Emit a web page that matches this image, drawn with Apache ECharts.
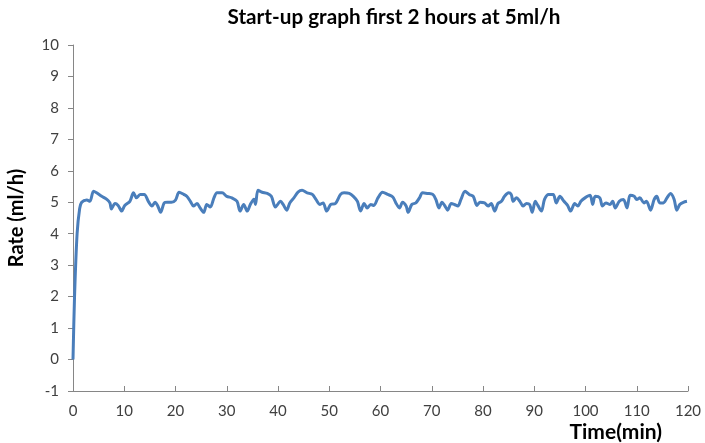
<!DOCTYPE html>
<html>
<head>
<meta charset="utf-8">
<script src="https://cdn.jsdelivr.net/npm/echarts@6/dist/echarts.min.js"></script>
<style>html,body{margin:0;padding:0;background:#fff}#c{width:705px;height:443px}</style>
</head>
<body>
<div id="c"></div>
<script>
var titleText = 'Start-up graph first 2 hours at 5ml/h';
var xName = 'Time(min)';
var yName = 'Rate (ml/h)';
var xTicks = [0, 120, 10];
var yTicks = [-1, 10, 1];
var timeMin = [0,0.3,0.8,1.3,1.7,2.7,3.3,4.0,4.6,5.6,6.6,7.2,7.5,8.2,8.8,9.5,10.1,11.1,11.8,12.4,13.1,13.9,14.7,15.4,16.0,16.5,17.1,17.8,18.4,19.2,
20.0,20.7,21.6,22.2,22.9,23.5,24.2,24.8,25.5,26.1,26.8,27.5,28.1,29.1,30.0,31.0,32.0,32.6,33.3,34.0,34.6,35.3,35.6,36.1,36.9,37.9,38.7,39.5,
40.5,41.0,41.7,42.3,43.1,43.9,44.7,45.7,46.7,47.4,48.2,48.8,49.5,50.3,51.2,52.2,52.9,53.9,54.7,55.5,56.1,56.8,57.4,58.1,58.7,59.5,
60.4,61.4,62.4,63.0,63.7,64.3,65.0,65.4,66.1,66.9,67.6,68.2,69.2,70.2,70.8,71.4,72.0,72.5,73.1,73.8,74.4,75.1,75.7,76.5,77.3,78.1,78.8,79.4,
80.3,81.0,81.6,82.3,82.9,83.6,84.2,85.0,85.5,85.9,86.5,87.2,87.8,88.5,89.1,89.6,90.2,90.7,91.4,92.0,92.8,93.7,94.3,95.0,95.8,96.5,97.1,97.9,98.5,99.1,
99.9,100.9,101.4,101.9,102.8,103.3,104.0,104.8,105.3,105.8,106.6,107.4,108.1,108.7,109.5,110.0,110.6,111.4,111.9,112.7,113.4,113.9,114.5,115.2,115.9,116.6,117.3,117.8,118.4,119.1,119.8];
var rate = [0,2.0,4.0,4.8,5.0,5.07,5.03,5.35,5.3,5.19,5.09,4.98,4.79,4.96,4.9,4.72,4.9,5.03,5.3,5.14,5.25,5.25,5.03,4.88,5.0,4.9,4.68,4.98,5.0,5.0,
5.07,5.32,5.25,5.19,5.03,4.88,4.96,4.82,4.68,4.93,4.85,5.14,5.3,5.3,5.19,5.14,5.03,4.72,4.93,4.72,4.93,5.1,4.93,5.38,5.32,5.28,5.19,4.85,
5.03,4.93,4.75,4.98,5.14,5.32,5.38,5.3,5.25,5.09,4.93,4.98,4.72,4.93,4.96,5.25,5.3,5.28,5.19,5.03,4.72,4.96,4.82,4.93,4.9,5.14,
5.32,5.25,5.17,4.98,4.82,5.0,4.88,4.68,4.93,4.98,5.14,5.3,5.28,5.25,5.09,4.82,5.0,4.9,4.75,4.96,4.93,4.88,5.09,5.35,5.25,5.19,4.9,5.0,
4.98,4.88,4.96,4.72,4.96,5.03,5.19,5.3,5.25,5.03,5.14,5.03,4.88,4.96,4.93,4.68,5.03,4.9,4.72,5.09,5.25,5.25,4.98,5.19,5.03,4.9,4.72,4.96,4.88,5.03,
5.14,5.22,4.93,5.19,5.14,4.88,4.98,4.93,5.03,4.82,5.03,5.09,4.82,5.22,5.19,5.09,5.14,4.98,5.03,4.75,5.09,5.19,4.98,4.98,5.14,5.28,5.09,4.75,4.93,5.0,5.03];

var data = timeMin.map(function (t, i) { return [t, rate[i]]; });
var font = 'Lato, "Open Sans", sans-serif';
var axisColor = '#868686';
var chart = echarts.init(document.getElementById('c'), null, {renderer: 'canvas'});
chart.setOption({
  animation: false,
  backgroundColor: '#ffffff',
  title: {
    text: titleText,
    left: 389, top: 2,
    textAlign: 'center',
    textStyle: {fontFamily: font, fontSize: 20.7, fontWeight: 'bold', color: '#000'}
  },
  grid: {left: 73, right: 17, top: 45, bottom: 52, containLabel: false, outerBoundsMode: 'none'},
  xAxis: {
    type: 'value', min: xTicks[0], max: xTicks[1], interval: xTicks[2],
    name: xName, nameLocation: 'end', nameGap: 0,
    nameTextStyle: {fontFamily: font, fontSize: 21, fontWeight: 'bold', color: '#000',
      align: 'right', verticalAlign: 'top', padding: [31, 26, 0, 0]},
    axisLine: {onZero: false, lineStyle: {color: axisColor, width: 1}},
    axisTick: {inside: true, length: 5, lineStyle: {color: axisColor}},
    axisLabel: {fontFamily: font, fontSize: 15, color: '#404040', margin: 13},
    splitLine: {show: false}
  },
  yAxis: {
    type: 'value', min: yTicks[0], max: yTicks[1], interval: yTicks[2],
    name: yName, nameLocation: 'middle', nameGap: 46, nameRotate: 90,
    nameTextStyle: {fontFamily: font, fontSize: 20, fontWeight: 'bold', color: '#000'},
    axisLine: {show: true, lineStyle: {color: axisColor, width: 1}},
    axisTick: {show: true, length: 5, lineStyle: {color: axisColor}},
    axisLabel: {fontFamily: font, fontSize: 15, color: '#404040', margin: 14},
    splitLine: {show: false}
  },
  series: [{
    type: 'line', data: data, showSymbol: false, smooth: 0.3,
    lineStyle: {color: '#4A7EBB', width: 3},
    itemStyle: {color: '#4A7EBB'}
  }]
});
</script>
</body>
</html>
